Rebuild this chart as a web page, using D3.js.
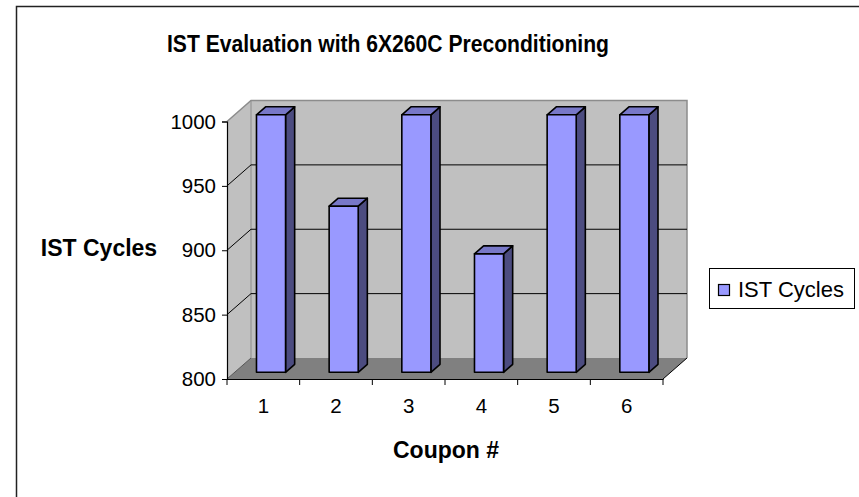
<!DOCTYPE html>
<html>
<head>
<meta charset="utf-8">
<script src="https://cdn.jsdelivr.net/npm/d3@7/dist/d3.min.js"></script>
<style>
  html, body { margin: 0; padding: 0; background: #fff; }
  svg { display: block; font-family: "Liberation Sans", Arial, sans-serif; }
</style>
</head>
<body>
<svg id="chart" width="859" height="497"></svg>
<script>
// Data
const categories = ["1", "2", "3", "4", "5", "6"];
const istCycles = [1000, 929, 1000, 892, 1000, 1000];
const yTicks = [800, 850, 900, 950, 1000];
const seriesName = "IST Cycles";
const chartTitle = "IST Evaluation with 6X260C Preconditioning";
const xTitle = "Coupon #";
const yTitle = "IST Cycles";

const svg = d3.select("#chart");

// Plot frame (front plane) and 3D depth vector
const plot = { left: 227, right: 663, top: 121.5, bottom: 379 };
const depth = { dx: 24, dy: -21 };
const P = (x, y, f) => [x + f * depth.dx, y + f * depth.dy];

const x = d3.scaleBand().domain(categories).range([plot.left, plot.right]).padding(0);
const y = d3.scaleLinear().domain([800, 1000]).range([plot.bottom, plot.top]);

// Outer chart border
svg.append("rect")
  .attr("x", 16.5).attr("y", 6.5).attr("width", 900).attr("height", 600)
  .attr("fill", "#fff").attr("stroke", "#222").attr("stroke-width", 1.5);

const poly = pts => pts.map(p => p.join(",")).join(" ");
const yMin = y(800), yMax = y(1000);

// Left side wall
svg.append("polygon")
  .attr("points", poly([P(plot.left, yMax, 0), P(plot.left, yMax, 1), P(plot.left, yMin, 1), P(plot.left, yMin, 0)]))
  .attr("fill", "#c0c0c0").attr("stroke", "none");

// Back wall
svg.append("polygon")
  .attr("points", poly([P(plot.left, yMax, 1), P(plot.right, yMax, 1), P(plot.right, yMin, 1), P(plot.left, yMin, 1)]))
  .attr("fill", "#c0c0c0").attr("stroke", "none");

// Floor
svg.append("polygon")
  .attr("points", poly([P(plot.left, yMin, 0), P(plot.right, yMin, 0), P(plot.right, yMin, 1), P(plot.left, yMin, 1)]))
  .attr("fill", "#808080").attr("stroke", "none");

// Wall borders
svg.append("polyline")
  .attr("points", poly([P(plot.left, yMax, 0), P(plot.left, yMax, 1), P(plot.right, yMax, 1), P(plot.right, yMin, 1)]))
  .attr("fill", "none").attr("stroke", "#8c8c8c").attr("stroke-width", 1.5);
svg.append("line")
  .attr("x1", P(plot.left, yMax, 1)[0]).attr("y1", P(plot.left, yMax, 1)[1])
  .attr("x2", P(plot.left, yMin, 1)[0]).attr("y2", P(plot.left, yMin, 1)[1])
  .attr("stroke", "#8c8c8c").attr("stroke-width", 1);

// Gridlines on side and back walls
const grid = yTicks.filter(v => v > 800 && v < 1000);
grid.forEach(v => {
  svg.append("polyline")
    .attr("points", poly([P(plot.left, y(v), 0), P(plot.left, y(v), 1), P(plot.right, y(v), 1)]))
    .attr("fill", "none").attr("stroke", "#000").attr("stroke-width", 1);
});

// Floor/left wall edge and right floor edge
svg.append("line")
  .attr("x1", P(plot.left, yMin, 0)[0]).attr("y1", P(plot.left, yMin, 0)[1])
  .attr("x2", P(plot.left, yMin, 1)[0]).attr("y2", P(plot.left, yMin, 1)[1])
  .attr("stroke", "#555").attr("stroke-width", 1);
svg.append("line")
  .attr("x1", P(plot.right, yMin, 0)[0]).attr("y1", P(plot.right, yMin, 0)[1])
  .attr("x2", P(plot.right, yMin, 1)[0]).attr("y2", P(plot.right, yMin, 1)[1])
  .attr("stroke", "#000").attr("stroke-width", 1);

// Bars (3D columns)
const f0 = 0.32, f1 = 0.70, barFrac = 0.40;
const bars = svg.append("g").attr("stroke", "#000").attr("stroke-width", 1.6).attr("stroke-linejoin", "round");
categories.forEach((c, i) => {
  const xc = x(c) + x.bandwidth() / 2;
  const w = x.bandwidth() * barFrac;
  const x0 = xc - w / 2, x1 = xc + w / 2;
  const yt = y(istCycles[i]), yb = y(800);
  // side face
  bars.append("polygon")
    .attr("points", poly([P(x1, yt, f0), P(x1, yt, f1), P(x1, yb, f1), P(x1, yb, f0)]))
    .attr("fill", "#4c4c80");
  // top face
  bars.append("polygon")
    .attr("points", poly([P(x0, yt, f0), P(x1, yt, f0), P(x1, yt, f1), P(x0, yt, f1)]))
    .attr("fill", "#7878c8");
  // front face
  bars.append("polygon")
    .attr("points", poly([P(x0, yt, f0), P(x1, yt, f0), P(x1, yb, f0), P(x0, yb, f0)]))
    .attr("fill", "#9999ff");
});

const FONT = "'Liberation Sans', Arial, sans-serif";

// Y axis
const yAxis = svg.append("g")
  .attr("transform", `translate(${plot.left},0)`)
  .call(d3.axisLeft(y).tickValues(yTicks).tickSize(5).tickPadding(6).tickFormat(d3.format("d")));
yAxis.select(".domain").attr("stroke", "#000").attr("stroke-width", 1.2);
yAxis.selectAll(".tick line").attr("stroke", "#000");
yAxis.selectAll("text").attr("font-size", 20.5).attr("fill", "#000").attr("font-family", FONT);

// X axis
const xAxis = svg.append("g")
  .attr("transform", `translate(0,${plot.bottom})`)
  .call(d3.axisBottom(x).tickSize(0).tickPadding(19));
xAxis.select(".domain").attr("stroke", "#000").attr("stroke-width", 1.2);
xAxis.selectAll("text").attr("font-size", 20.5).attr("fill", "#000").attr("font-family", FONT);
// category boundary ticks
const bounds = categories.map(c => x(c)).concat([plot.right]);
xAxis.selectAll(".bound").data(bounds).enter().append("line")
  .attr("class", "bound")
  .attr("x1", d => d).attr("x2", d => d).attr("y1", 0).attr("y2", 6)
  .attr("stroke", "#000").attr("stroke-width", 1);

// Titles
svg.append("text").attr("x", 388).attr("y", 52).attr("text-anchor", "middle")
  .attr("font-size", 24.5).attr("font-weight", "bold")
  .attr("textLength", 442).attr("lengthAdjust", "spacingAndGlyphs")
  .text(chartTitle);
svg.append("text").attr("x", 446).attr("y", 458).attr("text-anchor", "middle")
  .attr("font-size", 23).attr("font-weight", "bold").text(xTitle);
svg.append("text").attr("x", 99).attr("y", 256).attr("text-anchor", "middle")
  .attr("font-size", 23).attr("font-weight", "bold").text(yTitle);

// Legend
const lg = svg.append("g");
lg.append("rect").attr("x", 709.5).attr("y", 268.5).attr("width", 145).attr("height", 40)
  .attr("fill", "#fff").attr("stroke", "#000").attr("stroke-width", 1);
lg.append("rect").attr("x", 718.5).attr("y", 284.5).attr("width", 11).attr("height", 11)
  .attr("fill", "#9999ff").attr("stroke", "#000").attr("stroke-width", 1.2);
lg.append("text").attr("x", 738).attr("y", 297).attr("font-size", 22).text(seriesName);
</script>
</body>
</html>
